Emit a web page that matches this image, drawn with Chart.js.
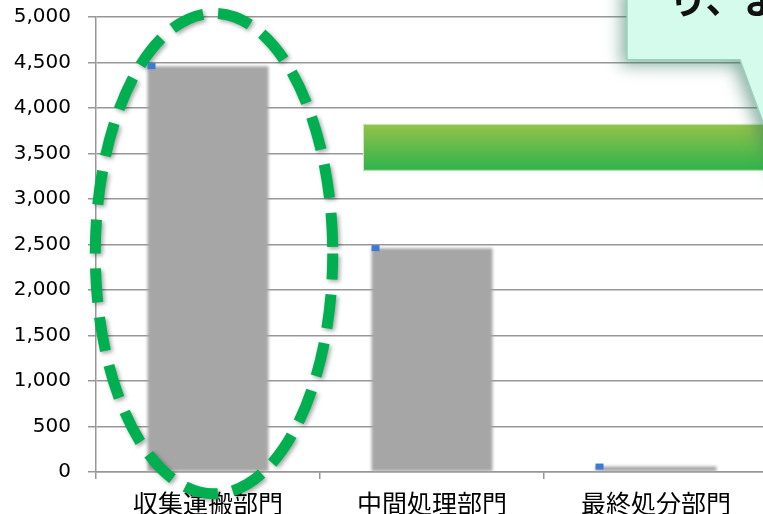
<!DOCTYPE html>
<html lang="ja">
<head>
<meta charset="utf-8">
<script src="https://cdn.jsdelivr.net/npm/chart.js@4.4.1/dist/chart.umd.min.js"></script>
<style>
  html, body { margin: 0; padding: 0; background: #fff; overflow: hidden; }
  #wrap { width: 763px; height: 514px; overflow: hidden; }
  canvas { display: block; }
</style>
</head>
<body>
<div id="wrap"><canvas id="chart" width="772" height="514"></canvas></div>
<script>
// 部門別の数値
const categories = ['収集運搬部門', '中間処理部門', '最終処分部門'];
const amounts = [4460, 2460, 60];
const yMax = 5000;
const yStep = 500;
const calloutText = 'り、よ';

const gridGray = '#979797';

// 棒の輪郭をぼかす
const softBars = {
  id: 'softBars',
  beforeDatasetDraw(chart, args) {
    if (args.index !== 0) return;
    chart.ctx.save();
    chart.ctx.filter = 'blur(1.8px)';
  },
  afterDatasetDraw(chart, args) {
    if (args.index !== 0) return;
    chart.ctx.restore();
  }
};

// 楕円・帯・吹き出し、それと各棒の左上の小さな青い印
const overlays = {
  id: 'overlays',
  afterDraw(chart) {
    const ctx = chart.ctx;
    const xs = chart.scales.x;
    const ys = chart.scales.y;
    const catW = xs.width / categories.length;

    // 収集運搬部門を囲む破線の楕円
    ctx.save();
    ctx.beginPath();
    ctx.ellipse(xs.getPixelForValue(0) + 6, ys.getPixelForValue(2400),
      catW * 0.53, ys.height * 0.528, 0, 0, Math.PI * 2);
    ctx.setLineDash([34, 15]);
    ctx.lineDashOffset = 8;
    ctx.lineWidth = 11;
    ctx.strokeStyle = '#00b050';
    ctx.shadowColor = 'rgba(0,0,0,0.35)';
    ctx.shadowBlur = 4;
    ctx.shadowOffsetX = 2;
    ctx.shadowOffsetY = 2;
    ctx.stroke();
    ctx.restore();

    // 値の印
    const meta = chart.getDatasetMeta(0);
    ctx.save();
    ctx.fillStyle = '#3c7bd5';
    meta.data.forEach((bar, i) => {
      const y = ys.getPixelForValue(amounts[i]);
      ctx.fillRect(bar.x - bar.width / 2, y - 3, 8, 6);
    });
    ctx.restore();

    // 緑の帯
    const bTop = ys.getPixelForValue(3825);
    const bBot = ys.getPixelForValue(3310);
    const bLeft = xs.getPixelForValue(1) - 69;
    ctx.save();
    const g = ctx.createLinearGradient(0, bTop, 0, bBot);
    g.addColorStop(0, '#94c24a');
    g.addColorStop(1, '#2eb34c');
    ctx.fillStyle = g;
    ctx.fillRect(bLeft, bTop, chart.width - bLeft, bBot - bTop);
    ctx.strokeStyle = '#c9ebbd';
    ctx.lineWidth = 1;
    ctx.strokeRect(bLeft + 0.5, bTop + 0.5, chart.width, bBot - bTop - 1);
    ctx.restore();

    // 吹き出し
    const cLeft = chart.chartArea.right - 141;
    const cBot = ys.getPixelForValue(4530);
    const tipX = cLeft + 113;
    ctx.save();
    ctx.beginPath();
    ctx.moveTo(cLeft, -20);
    ctx.lineTo(cLeft, cBot);
    ctx.lineTo(tipX, cBot);
    ctx.lineTo(tipX + 50, cBot + 136);
    ctx.lineTo(chart.width + 40, cBot);
    ctx.lineTo(chart.width + 40, -20);
    ctx.closePath();
    ctx.shadowColor = 'rgba(50,120,95,0.55)';
    ctx.shadowBlur = 16;
    ctx.shadowOffsetX = -6;
    ctx.shadowOffsetY = 6;
    ctx.fillStyle = '#d5fbec';
    ctx.fill();
    ctx.shadowColor = 'transparent';
    ctx.lineWidth = 1.5;
    ctx.strokeStyle = '#98d3bd';
    ctx.stroke();
    ctx.fillStyle = '#111';
    ctx.font = 'bold 38px "Noto Sans CJK JP"';
    ctx.textBaseline = 'alphabetic';
    ctx.fillText(calloutText, cLeft + 42, 13);
    ctx.restore();
  }
};

const ctx = document.getElementById('chart').getContext('2d');
new Chart(ctx, {
  type: 'bar',
  data: {
    labels: categories,
    datasets: [{
      data: amounts,
      backgroundColor: '#a6a6a6',
      borderWidth: 0,
      barPercentage: 0.54,
      categoryPercentage: 1
    }]
  },
  options: {
    responsive: false,
    animation: false,
    layout: { padding: { top: 17, right: 4, left: 0, bottom: 0 } },
    plugins: {
      legend: { display: false },
      tooltip: { enabled: false }
    },
    scales: {
      x: {
        grid: { drawOnChartArea: false, tickLength: 7, color: gridGray, lineWidth: 1.5 },
        border: { color: gridGray, width: 1.5 },
        ticks: {
          color: '#000',
          font: { family: '"Noto Sans CJK JP"', size: 25 },
          padding: 9,
          maxRotation: 0
        },
        afterFit(s) { s.height = 42; }
      },
      y: {
        min: 0,
        max: yMax,
        grid: { color: gridGray, lineWidth: 1.5, tickLength: 8 },
        border: { color: gridGray, width: 1.5 },
        ticks: {
          stepSize: yStep,
          padding: 17,
          color: '#000',
          font: { family: '"DejaVu Sans"', size: 20 },
          callback: v => v.toLocaleString('en-US')
        },
        afterFit(s) {
          s.width = 96;
          s.paddingTop = 0;
          s.paddingBottom = 0;
        }
      }
    }
  },
  plugins: [softBars, overlays]
});
</script>
</body>
</html>
